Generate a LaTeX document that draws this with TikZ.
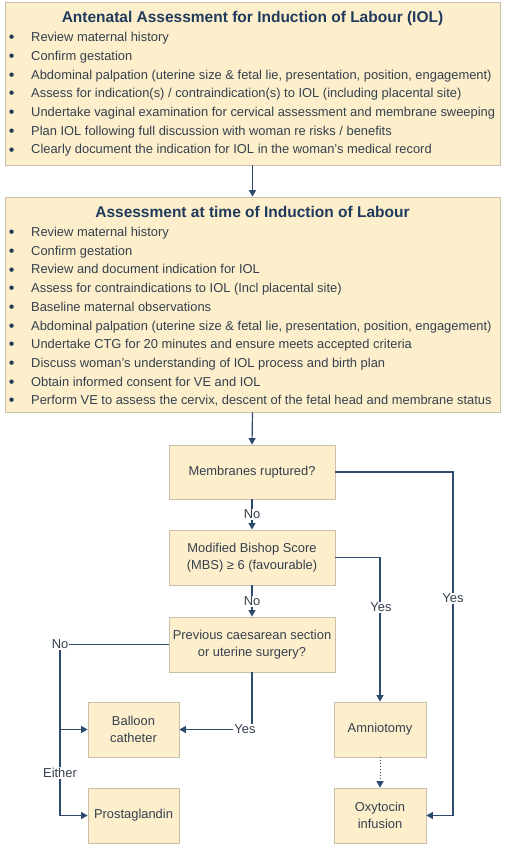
\documentclass[tikz,border=0pt]{standalone}
\usepackage{fontspec}
\setmainfont{Liberation Sans}
\usetikzlibrary{arrows.meta,shadows}
\definecolor{boxfill}{HTML}{FDEFCB}
\definecolor{boxdraw}{HTML}{C9BFAA}
\definecolor{txt}{HTML}{34404E}
\definecolor{ttl}{HTML}{1F3A5C}
\definecolor{lnk}{HTML}{2C4A6C}
\tikzset{
  box/.style={draw=boxdraw, fill=boxfill, line width=0.8pt, inner sep=0pt,
    drop shadow={shadow xshift=1.2pt, shadow yshift=-1.2pt, opacity=0.25, fill=black!60}},
  sbox/.style={box, minimum width=166pt, minimum height=55pt, align=center,
    text=txt, font=\fontsize{12.9}{16.8}\selectfont},
  tbox/.style={box, minimum width=92pt, minimum height=55pt, align=center,
    text=txt, font=\fontsize{12.9}{16.8}\selectfont},
  ttlnode/.style={text=ttl, font=\fontsize{15.5}{17}\selectfont\bfseries, inner sep=0pt},
  lst/.style={text=txt, anchor=north west, inner sep=0pt, align=left},
  arr/.style={draw=lnk, line width=1.2pt, -{Triangle[length=6.5pt,width=7pt]}},
  ln/.style={draw=lnk, line width=1.2pt},
  lbl/.style={fill=white, text=txt, inner sep=1pt, font=\fontsize{12.9}{14}\selectfont},
}
\newcommand{\bl}{\raisebox{-1.1pt}{\textcolor{ttl}{\fontsize{16}{16}\selectfont\textbullet}}}
\begin{document}
\begin{tikzpicture}[x=1pt,y=-1pt]
\useasboundingbox (0,0) rectangle (504,850);
% big boxes
\node[box, minimum width=495pt, minimum height=163pt] (box1) at (252.5,83.5) {};
\node[ttlnode] (t1) at (252.5,18) {Antenatal Assessment for Induction of Labour (IOL)};
\node[lst] (l1) at (8.8,28.5) {\fontsize{12.9}{18.7}\selectfont
\begin{tabular}{@{}p{22.2pt}@{}l@{}}
\bl & Review maternal history\\
\bl & Confirm gestation\\
\bl & Abdominal palpation (uterine size \& fetal lie, presentation, position, engagement)\\
\bl & Assess for indication(s) / contraindication(s) to IOL (including placental site)\\
\bl & Undertake vaginal examination for cervical assessment and membrane sweeping\\
\bl & Plan IOL following full discussion with woman re risks / benefits\\
\bl & Clearly document the indication for IOL in the woman’s medical record
\end{tabular}};
\node[box, minimum width=495pt, minimum height=215pt] (box2) at (252.5,304.5) {};
\node[ttlnode] (t2) at (252.5,212) {Assessment at time of Induction of Labour};
\node[lst] (l2) at (8.8,223.3) {\fontsize{12.9}{18.7}\selectfont
\begin{tabular}{@{}p{22.2pt}@{}l@{}}
\bl & Review maternal history\\
\bl & Confirm gestation\\
\bl & Review and document indication for IOL\\
\bl & Assess for contraindications to IOL (Incl placental site)\\
\bl & Baseline maternal observations\\
\bl & Abdominal palpation (uterine size \& fetal lie, presentation, position, engagement)\\
\bl & Undertake CTG for 20 minutes and ensure meets accepted criteria\\
\bl & Discuss woman's understanding of IOL process and birth plan\\
\bl & Obtain informed consent for VE and IOL\\
\bl & Perform VE to assess the cervix, descent of the fetal head and membrane status
\end{tabular}};
% decision boxes
\node[sbox, minimum height=54pt] (mem) at (252,472) {Membranes ruptured?};
\node[sbox] (mbs) at (252,557.5) {Modified Bishop Score\\(MBS) ≥ 6 (favourable)};
\node[sbox] (prev) at (252,644.5) {Previous caesarean section\\or uterine surgery?};
\node[tbox, minimum width=91pt] (balloon) at (133.5,729.5) {Balloon\\catheter};
\node[tbox, minimum width=91pt] (prost) at (133.5,815.5) {Prostaglandin};
\node[tbox] (amnio) at (380,729.5) {Amniotomy};
\node[tbox] (oxy) at (380,815.5) {Oxytocin\\infusion};
% helper coordinates
\coordinate (cR) at (453,815.5);
\coordinate (cL) at (60,644.5);
% connectors
\draw[arr] (box1.south) -- (box2.north);
\draw[arr] (box2.south) -- (mem.north);
\draw[arr] (mem.south) -- node[lbl] {No} (mbs.north);
\draw[arr] (mbs.south) -- node[lbl] {No} (prev.north);
\draw[arr] (mem.east) -| (cR) -- (oxy.east);
\node[lbl] (y1) at (453,598) {Yes};
\draw[arr] (mbs.east) -| (amnio.north);
\node[lbl] (y2) at (381,607) {Yes};
\draw[ln] (prev.west) -- (cL);
\draw[arr] (cL) |- (balloon.west);
\draw[arr] (cL) |- (prost.west);
\node[lbl] (n3) at (cL) {No};
\node[lbl] (e1) at (60,773) {Either};
\draw[arr] (prev.south) |- (balloon.east);
\node[lbl] (y3) at (245,729.5) {Yes};
\draw[draw=lnk, line width=1pt, dotted, -{Triangle[length=6.5pt,width=7pt]}] (amnio.south) -- (oxy.north);
\end{tikzpicture}
\end{document}
